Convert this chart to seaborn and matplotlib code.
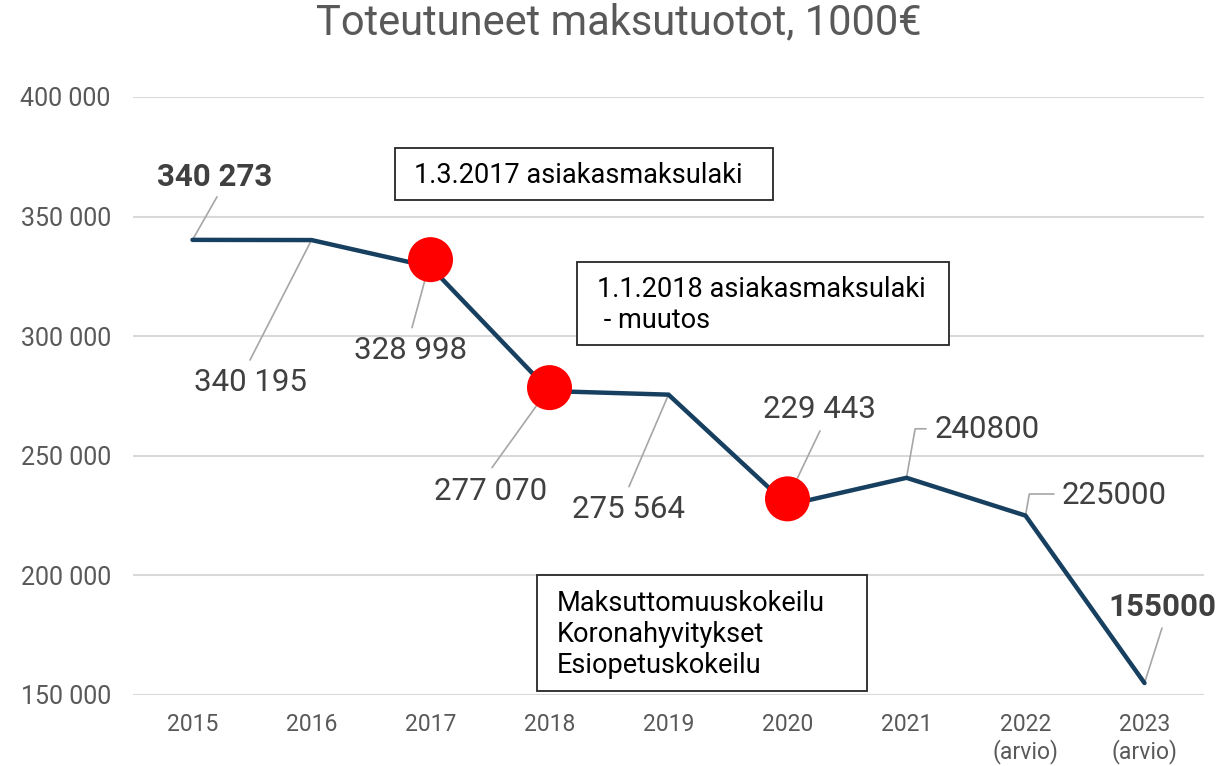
import pandas as pd
import matplotlib.pyplot as plt
import seaborn as sns
from matplotlib.patches import Rectangle

# ----------------------------------------------------------
# Data
# ----------------------------------------------------------
years = ["2015", "2016", "2017", "2018", "2019", "2020", "2021", "2022\n(arvio)", "2023\n(arvio)"]
revenue = [340273, 340195, 328998, 277070, 275564, 229443, 240800, 225000, 155000]
value_labels = ["340 273", "340 195", "328 998", "277 070", "275 564", "229 443", "240800", "225000", "155000"]
bold_labels = [True, False, False, False, False, False, False, False, True]

# red markers (law changes / experiments)
marker_years = ["2017", "2018", "2020"]
marker_values = [332000, 278500, 232000]

box_texts = ["1.3.2017 asiakasmaksulaki",
             "1.1.2018 asiakasmaksulaki\n - muutos",
             "Maksuttomuuskokeilu\nKoronahyvitykset\nEsiopetuskokeilu"]

title = "Toteutuneet maksutuotot, 1000€"

# ----------------------------------------------------------
# Style
# ----------------------------------------------------------
sns.set_theme(style="white")
plt.rcParams['font.family'] = ['Roboto', 'DejaVu Sans']

W, H = 1231, 766
fig = plt.figure(figsize=(W / 100, H / 100), dpi=100)
ax = fig.add_axes([133 / W, 1 - 695 / H, (1204 - 133) / W, (695 - 97) / H])

df = pd.DataFrame({"pos": range(len(years)), "revenue": revenue})
df_mark = pd.DataFrame({"pos": [years.index(y) for y in marker_years], "value": marker_values})

sns.lineplot(data=df, x="pos", y="revenue", ax=ax, color="#173F5F", linewidth=3.2,
             solid_joinstyle="miter", zorder=3)
sns.scatterplot(data=df_mark, x="pos", y="value", ax=ax, color="#FF0000", s=1050,
                edgecolor="none", zorder=4)

ax.set_xlim(-0.5, len(years) - 0.5)
ax.set_ylim(150000, 400000)
ax.set_yticks(range(150000, 400001, 50000))
ax.set_yticklabels([f"{v:,}".replace(",", " ") for v in range(150000, 400001, 50000)])
ax.set_xticks(range(len(years)))
ax.set_xticklabels(years, linespacing=1.15)
ax.tick_params(axis="y", labelsize=18, labelcolor="#595959", pad=16, length=0)
ax.tick_params(axis="x", labelsize=16.5, labelcolor="#595959", pad=13, length=0)
ax.set_xlabel("")
ax.set_ylabel("")
ax.grid(axis="y", color="#D9D9D9", linewidth=1.5)
ax.set_axisbelow(True)
for s in ax.spines.values():
    s.set_visible(False)

# ----------------------------------------------------------
# Data labels with leader lines (offsets in pixels)
# ----------------------------------------------------------
k = 0.72
mark_map = dict(zip(df_mark["pos"], df_mark["value"]))
# (text dx, text dy, line dx, line dy, ha, elbow)
label_pos = [
    (22.5, 63, 24.5, 43, "center", False),
    (-61.5, -142, -61.5, -120, "center", False),
    (-19.5, -91, -18.5, -68, "center", False),
    (-58.5, -104, -57.5, -80, "center", False),
    (-40.5, -115, -39.5, -92, "center", False),
    (31.5, 89, 32.5, 68, "center", False),
    (28.5, 48, 19.5, 49, "left", True),
    (36.5, 20.6, 28.5, 21.6, "left", True),
    (17.5, 76, 17.5, 55, "center", False),
]
for i, (tdx, tdy, ldx, ldy, ha, elbow) in enumerate(label_pos):
    yv = mark_map.get(i, revenue[i])
    shrink = 16 if i in mark_map else 0
    cs = "angle,angleA=0,angleB=80,rad=0" if elbow else "arc3"
    ax.annotate("", xy=(i, yv), xytext=(ldx * k, ldy * k), textcoords="offset points",
                arrowprops=dict(arrowstyle="-", color="#A6A6A6", lw=1.2,
                                shrinkA=0, shrinkB=shrink, connectionstyle=cs),
                zorder=2)
    ax.annotate(value_labels[i], xy=(i, yv), xytext=(tdx * k, tdy * k),
                textcoords="offset points", ha=ha, va="center", fontsize=22.5,
                color="#404040", fontweight="bold" if bold_labels[i] else "normal",
                zorder=5)

# ----------------------------------------------------------
# Text boxes
# ----------------------------------------------------------
boxes = [(395, 148, 773, 200, 414), (577, 262, 949, 345, 597), (537, 575, 867, 691, 557)]
for (x0, y0, x1, y1, tx), txt in zip(boxes, box_texts):
    fig.add_artist(Rectangle((x0 / W, 1 - y1 / H), (x1 - x0) / W, (y1 - y0) / H,
                             transform=fig.transFigure, facecolor="white",
                             edgecolor="#262626", linewidth=1.3, zorder=6))
    fig.text(tx / W, 1 - (y0 + y1 + 3) / 2 / H, txt, ha="left", va="center", fontsize=19.5,
             color="black", linespacing=1.2, zorder=7)

fig.text(619 / W, 1 - 23 / H, title, ha="center", va="center", fontsize=30, color="#595959")

fig.savefig("out.png", dpi=100)
